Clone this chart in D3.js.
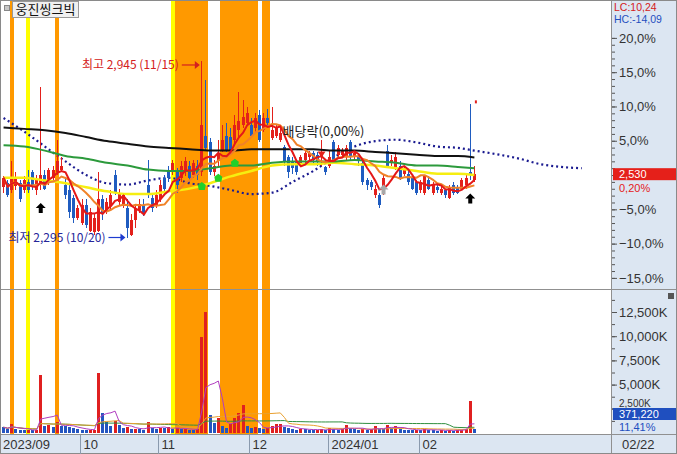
<!DOCTYPE html>
<html><head><meta charset="utf-8">
<script src="https://d3js.org/d3.v7.min.js"></script>
<style>
html,body{margin:0;padding:0;background:#fff;overflow:hidden}
svg{display:block}
text{font-family:"Liberation Sans Narrow","Noto Sans CJK KR",sans-serif;font-size:13px}
text.num{font-family:"Liberation Sans Narrow",sans-serif}
</style></head><body>
<svg id="chart" width="677" height="454"></svg>
<script>
// ---------------- DATA ----------------
const stockName = "웅진씽크빅";
const monthLabels = ["2023/09","10","11","12","2024/01","02"];
const monthStart = [0,19,38,60,79,101];
const lastDateLabel = "02/22";
const basePrice = 2525;          // previous close (0% line)
const lastPrice = 2530;
const lastChange = "0,20%";
const lastVolume = "371,220";
const lastVolChange = "11,41%";
const lcLabel = "LC:10,24", hcLabel = "HC:-14,09";
const pctTicks = [-15,-10,-5,5,10,15,20];
const volTicks = [2500,5000,7500,10000,12500];

const opens = [2480,2495,2470,2485,2495,2470,2500,2535,2470,2490,
 2525,2500,2515,2535,2545,2490,2470,2440,2365,2350,
 2415,2320,2315,2320,2435,2390,2410,2525,2425,2420,
 2405,2305,2360,2395,2415,2490,2440,2415,2435,2515,
 2545,2535,2535,2515,2535,2560,2525,2560,2535,2670,
 2645,2535,2575,2615,2670,2665,2655,2690,2710,2715,
 2710,2700,2745,2690,2735,2660,2670,2655,2630,2590,
 2575,2575,2570,2580,2590,2605,2600,2590,2555,2560,
 2645,2600,2600,2590,2645,2590,2590,2570,2505,2500,
 2450,2450,2470,2615,2570,2555,2560,2530,2530,2515,
 2500,2470,2460,2505,2460,2480,2460,2470,2440,2490,
 2480,2475,2490,2535,2505];
const highs = [2520,2505,2575,2535,2505,2520,2545,2545,2525,2850,
 2545,2550,2560,2655,2590,2515,2490,2450,2415,2435,
 2435,2405,2380,2535,2450,2440,2470,2545,2475,2460,
 2435,2380,2415,2435,2435,2580,2450,2470,2505,2525,
 2560,2580,2550,2575,2590,2575,2580,2580,2945,2875,
 2660,2580,2655,2710,2715,2700,2745,2830,2800,2775,
 2735,2755,2765,2755,2770,2775,2710,2700,2635,2600,
 2590,2580,2600,2615,2615,2615,2610,2655,2560,2615,
 2655,2635,2625,2635,2655,2615,2600,2580,2515,2505,
 2490,2460,2525,2635,2600,2610,2575,2560,2545,2525,
 2505,2505,2525,2520,2500,2490,2485,2475,2490,2500,
 2490,2515,2525,2785,2560];
const lows = [2460,2445,2460,2470,2425,2460,2460,2470,2450,2470,
 2470,2490,2500,2525,2535,2435,2365,2350,2360,2340,
 2330,2315,2305,2315,2360,2380,2395,2450,2415,2405,
 2295,2300,2330,2385,2375,2440,2390,2405,2425,2460,
 2500,2525,2460,2500,2520,2500,2515,2505,2520,2615,
 2525,2520,2560,2610,2610,2600,2635,2660,2700,2710,
 2660,2680,2645,2685,2710,2655,2660,2645,2560,2515,
 2530,2525,2560,2570,2580,2570,2560,2560,2525,2550,
 2570,2590,2590,2580,2580,2580,2560,2490,2470,2470,
 2440,2405,2450,2550,2560,2545,2505,2520,2490,2470,
 2450,2460,2450,2470,2450,2460,2450,2440,2435,2450,
 2455,2470,2475,2505,2500];
const closes = [2515,2450,2515,2515,2435,2505,2470,2490,2505,2525,
 2475,2545,2545,2575,2560,2450,2390,2365,2405,2415,
 2340,2390,2365,2435,2380,2425,2450,2460,2460,2450,
 2330,2360,2405,2420,2385,2450,2405,2450,2490,2475,
 2515,2570,2490,2560,2575,2515,2570,2525,2710,2625,
 2535,2560,2605,2655,2615,2615,2710,2725,2740,2755,
 2670,2735,2655,2735,2715,2690,2700,2680,2575,2535,
 2550,2535,2590,2605,2605,2580,2575,2605,2535,2590,
 2580,2625,2615,2625,2590,2605,2575,2500,2490,2480,
 2475,2415,2515,2560,2580,2590,2515,2545,2500,2475,
 2460,2500,2520,2475,2490,2470,2475,2450,2480,2460,
 2460,2505,2515,2525,2530];
// volume in thousands of shares
const volumes = [600,380,900,420,300,260,330,280,350,6000,
 700,800,650,1100,750,700,650,500,450,300,
 280,320,350,6200,2100,1100,700,1200,800,500,
 650,400,420,380,300,1150,500,420,550,480,
 600,450,500,380,420,350,300,400,9900,12500,
 1850,1000,1600,700,550,900,1600,2100,2900,750,
 500,600,550,450,500,700,900,950,600,500,
 400,350,450,400,300,280,320,400,300,500,
 380,320,450,800,500,400,350,420,300,380,
 700,450,400,850,500,700,400,320,300,280,
 350,300,420,300,280,250,300,220,350,250,
 300,320,450,3300,371];

const maIdx = [0,5,10,15,20,25,30,35,40,45,50,55,60,65,70,75,80,85,90,95,100,105,110,114];
const ma20 = [2515,2515,2505,2495,2480,2465,2455,2455,2465,2475,2495,2520,2540,2560,2565,2565,2570,2565,2560,2550,2540,2530,2530,2525];
const ma60 = [2635,2630,2615,2595,2585,2570,2560,2545,2540,2540,2550,2560,2560,2570,2575,2575,2575,2580,2575,2570,2560,2560,2555,2550];
const ma120 = [2700,2695,2690,2680,2665,2650,2640,2630,2625,2620,2615,2615,2620,2620,2620,2620,2615,2615,2610,2605,2600,2595,2595,2590];
const leadIdx = [0,5,10,15,20,25,30,35,40,45,50,55,60,65,70,75,80,85,90,95,100,105,110,114,120,125,130,135,140];
const leadSpan = [2735,2685,2630,2575,2525,2495,2490,2505,2515,2495,2485,2470,2455,2460,2500,2540,2590,2630,2650,2655,2645,2630,2625,2615,2600,2585,2565,2555,2550];

// signal bands (O = orange, Y = yellow)
const signalIdx  = [2,6,13,41,42,43,44,45,46,47,48,49,53,54,55,56,57,58,59,60,61,63,64];
const signalType = ["O","Y","O","Y","O","O","O","O","O","O","O","O","O","O","O","O","O","O","O","O","O","O","O"];
// markers
const crossIdx = [48,52,56], crossPrice = [2485,2515,2570];
const upArrowIdx = [9,113];
const greyArrowIdx = 92, greyArrowPrice = 2490;
const exDivIdx = 77, exDivPrice = 2590, exDivLabel = "배당락(0,00%)";
const hiIdx = 48, hiLabel = "최고 2,945 (11/15)";
const loIdx = 30, loLabel = "최저 2,295 (10/20)";

// ---------------- CHART ----------------
const W = 677, H = 454;
const svg = d3.select("#chart");
const n = closes.length;
const x = d3.scaleLinear().domain([-0.5, n - 0.5]).range([1.5, 1.5 + n * 4.13]);
const step = x(1) - x(0);
const y = d3.scaleLinear().domain([basePrice * 0.85, basePrice * 1.2]).range([277.9, 37.9]);
const pct = d3.scaleLinear().domain([-15, 20]).range([277.9, 37.9]);
const yv = d3.scaleLinear().domain([0, 12500]).range([433, 312]);

const RED = "#E3201B", BLUE = "#1F5CC0";

svg.append("rect").attr("width", W).attr("height", H).attr("fill", "#fff");
svg.append("rect").attr("x", 612).attr("y", 0).attr("width", 65).attr("height", 435).attr("fill", "#DCE6F2");
svg.append("rect").attr("x", 0).attr("y", 435).attr("width", W).attr("height", 19).attr("fill", "#DCE6F2");

const defs = svg.append("defs");
defs.append("clipPath").attr("id", "cp").append("rect").attr("x", 1).attr("y", 1).attr("width", 610).attr("height", 288);
defs.append("clipPath").attr("id", "cv").append("rect").attr("x", 1).attr("y", 291).attr("width", 610).attr("height", 143);
defs.append("clipPath").attr("id", "ca").append("rect").attr("x", 1).attr("y", 1).attr("width", 610).attr("height", 433);

// bands
svg.append("g").attr("clip-path", "url(#ca)").attr("shape-rendering", "crispEdges")
  .selectAll("rect").data(signalIdx).join("rect")
  .attr("x", d => Math.round(x(d) - step / 2))
  .attr("width", d => Math.round(x(d) + step / 2) - Math.round(x(d) - step / 2) + 0.4)
  .attr("y", 1).attr("height", 433)
  .attr("fill", (d, k) => signalType[k] === "Y" ? "#FFFF00" : "#FF9900");

// ---- price panel
const gp = svg.append("g").attr("clip-path", "url(#cp)");
const cx = i => Math.round(x(i) - 1.5);

// leading span dotted
gp.append("path")
  .attr("d", d3.line().x((d, k) => x(leadIdx[k])).y(d => y(d)).curve(d3.curveMonotoneX)(leadSpan))
  .attr("fill", "none").attr("stroke", "#1B1B90").attr("stroke-width", 2.2).attr("stroke-dasharray", "2,3");

// candles
const cg = gp.append("g").attr("shape-rendering", "crispEdges");
const col = i => closes[i] >= opens[i] ? RED : BLUE;
cg.selectAll("line").data(d3.range(n)).join("line")
  .attr("x1", i => cx(i) + 1.5).attr("x2", i => cx(i) + 1.5)
  .attr("y1", i => y(highs[i])).attr("y2", i => y(lows[i]))
  .attr("stroke", col).attr("stroke-width", 1);
cg.selectAll("rect").data(d3.range(n)).join("rect")
  .attr("x", i => cx(i)).attr("width", 3)
  .attr("y", i => y(Math.max(opens[i], closes[i])))
  .attr("height", i => Math.max(1, Math.abs(y(opens[i]) - y(closes[i]))))
  .attr("fill", col);

// moving averages
function ma(arr, p) { return arr.map((_, i) => d3.mean(arr.slice(Math.max(0, i - p + 1), i + 1))); }
const kp = (idx, vals) => d3.line().x((d, k) => x(idx[k])).y(d => y(d)).curve(d3.curveMonotoneX)(vals);
const lin = vals => d3.line().x((d, i) => x(i)).y(d => y(d))(vals);
gp.append("path").attr("d", kp(maIdx, ma20)).attr("fill", "none").attr("stroke", "#F6EE10").attr("stroke-width", 2.5);
gp.append("path").attr("d", kp(maIdx, ma60)).attr("fill", "none").attr("stroke", "#2C9A3C").attr("stroke-width", 2);
gp.append("path").attr("d", kp(maIdx, ma120)).attr("fill", "none").attr("stroke", "#111").attr("stroke-width", 2);
gp.append("path").attr("d", lin(ma(closes, 10))).attr("fill", "none").attr("stroke", "#F08228").attr("stroke-width", 2);
gp.append("path").attr("d", lin(ma(closes, 5))).attr("fill", "none").attr("stroke", "#E41818").attr("stroke-width", 2);

// markers
gp.selectAll("path.cross").data(crossIdx).join("path").attr("class", "cross")
  .attr("d", (d, k) => { const px = x(d), py = y(crossPrice[k]); return `M${px},${py-4}L${px+4},${py-1}L${px+3},${py+4}L${px-3},${py+4}L${px-4},${py-1}Z`; })
  .attr("fill", "#22D02A");
const arrowUp = (px, py) => `M${px},${py}L${px+5},${py+5}L${px+2},${py+5}L${px+2},${py+10}L${px-2},${py+10}L${px-2},${py+5}L${px-5},${py+5}Z`;
gp.selectAll("path.ua").data(upArrowIdx).join("path").attr("class", "ua")
  .attr("d", d => arrowUp(x(d), y(lows[d]) + 13)).attr("fill", "#000");
gp.append("path").attr("d", arrowUp(x(greyArrowIdx), y(greyArrowPrice))).attr("fill", "#A8A8A8");
gp.append("path").attr("d", () => { const px = x(exDivIdx), py = y(exDivPrice); return `M${px-4},${py-6}L${px+4},${py-6}L${px},${py}Z`; }).attr("fill", RED);
gp.append("rect").attr("x", x(n - 1) + 0.5).attr("y", y(2800)).attr("width", 2).attr("height", 3).attr("fill", RED);

// annotations
const hx = x(hiIdx), hy = y(highs[hiIdx]) + 4;
gp.append("text").attr("x", hx - 23).attr("y", hy).attr("dy", "0.35em").attr("text-anchor", "end")
  .style("font-size", "12px").attr("fill", "#D42020").text(hiLabel);
gp.append("line").attr("x1", hx - 20).attr("x2", hx - 4).attr("y1", hy).attr("y2", hy).attr("stroke", "#D42020").attr("stroke-width", 1.2);
gp.append("path").attr("d", `M${hx-2},${hy}L${hx-7},${hy-4}L${hx-7},${hy+4}Z`).attr("fill", "#D42020");
const lx = x(loIdx), ly = y(lows[loIdx]);
gp.append("text").attr("x", lx - 22).attr("y", ly).attr("dy", "0.35em").attr("text-anchor", "end")
  .style("font-size", "12px").attr("fill", "#26269A").text(loLabel);
gp.append("line").attr("x1", lx - 19).attr("x2", lx - 5).attr("y1", ly).attr("y2", ly).attr("stroke", "#1E3CD0").attr("stroke-width", 1.2);
gp.append("path").attr("d", `M${lx-2},${ly}L${lx-7},${ly-4}L${lx-7},${ly+4}Z`).attr("fill", "#1E3CD0");
gp.append("text").attr("x", x(exDivIdx) - 39).attr("y", 131).attr("dy", "0.35em").attr("fill", "#222").text(exDivLabel);

// ---- volume panel
const gv = svg.append("g").attr("clip-path", "url(#cv)");
gv.append("g").attr("shape-rendering", "crispEdges").selectAll("rect").data(volumes).join("rect")
  .attr("x", (d, i) => cx(i)).attr("width", 3)
  .attr("y", d => yv(d)).attr("height", d => Math.max(1, yv(0) - yv(d)))
  .attr("fill", (d, i) => i > 0 && d >= volumes[i - 1] ? "#E02020" : "#2455C0");
const vlin = vals => d3.line().x((d, i) => x(i)).y(d => yv(d))(vals);
gv.append("path").attr("d", vlin(ma(volumes, 60))).attr("fill", "none").attr("stroke", "#2F8F3F").attr("stroke-width", 1);
gv.append("path").attr("d", vlin(ma(volumes, 20))).attr("fill", "none").attr("stroke", "#E9A030").attr("stroke-width", 1);
gv.append("path").attr("d", vlin(ma(volumes, 5))).attr("fill", "none").attr("stroke", "#B03CC0").attr("stroke-width", 1);

// ---- frame lines
const fr = svg.append("g").attr("stroke", "#909090").attr("shape-rendering", "crispEdges");
fr.append("line").attr("x1", 0).attr("x2", W).attr("y1", 289.5).attr("y2", 289.5);
fr.append("line").attr("x1", 0).attr("x2", W).attr("y1", 434.5).attr("y2", 434.5);
fr.append("line").attr("x1", 611.5).attr("x2", 611.5).attr("y1", 0).attr("y2", H);
svg.append("rect").attr("x", 0.5).attr("y", 0.5).attr("width", W - 1).attr("height", H - 1)
  .attr("fill", "none").attr("stroke", "#8A8A8A").attr("shape-rendering", "crispEdges");

// ---- right axis (price, in %)
const ax = svg.append("g").attr("transform", "translate(612,0)");
ax.append("g").call(d3.axisRight(pct).tickValues(d3.range(-15, 21, 1)).tickSize(3).tickFormat(""))
  .call(g => { g.select(".domain").remove(); g.selectAll("line").attr("stroke", "#555"); });
ax.append("g").call(d3.axisRight(pct).tickValues(pctTicks).tickSize(5).tickPadding(2)
    .tickFormat(d => d3.format(".1f")(d).replace(".", ",") + "%"))
  .call(g => { g.select(".domain").remove(); g.selectAll("line").attr("stroke", "#555");
    g.selectAll("text").attr("fill", "#333").attr("class", "num").style("font-size", "13px").attr("font-family", null); });

// volume axis
ax.append("g").call(d3.axisRight(yv).tickValues(d3.range(1250, 13751, 1250)).tickSize(3).tickFormat(""))
  .call(g => { g.select(".domain").remove(); g.selectAll("line").attr("stroke", "#555"); });
ax.append("g").call(d3.axisRight(yv).tickValues(volTicks.slice(1)).tickSize(5).tickPadding(2)
    .tickFormat(d => d3.format(",")(d) + "K"))
  .call(g => { g.select(".domain").remove(); g.selectAll("line").attr("stroke", "#555");
    g.selectAll("text").attr("fill", "#333").attr("class", "num").style("font-size", "13px").attr("font-family", null); });
// lowest volume tick: its label peeks out above the current-volume box
const v0 = yv(volTicks[0]);
ax.append("line").attr("x1", 0).attr("x2", 5).attr("y1", v0).attr("y2", v0).attr("stroke", "#555");
ax.append("text").attr("class", "num").attr("x", 7).attr("y", v0 - 5).attr("dy", "0.32em").style("font-size", "10px").attr("fill", "#333").text(d3.format(",")(volTicks[0]) + "K");

// current price box
const py0 = y(lastPrice);
svg.append("rect").attr("x", 613).attr("y", py0 - 5.5).attr("width", 63).attr("height", 12).attr("fill", "#E5201A");
svg.append("text").attr("class", "num").attr("x", 619).attr("y", py0 + 0.5).attr("dy", "0.36em").style("font-size", "11px").attr("fill", "#fff").text(d3.format(",")(lastPrice));
svg.append("text").attr("class", "num").attr("x", 619).attr("y", py0 + 14).attr("dy", "0.36em").style("font-size", "11px").attr("fill", "#E5201A").text(lastChange);
svg.append("text").attr("class", "num").attr("x", 614).attr("y", 7.5).attr("dy", "0.36em").style("font-size", "10.5px").attr("fill", "#D42020").text(lcLabel);
svg.append("text").attr("class", "num").attr("x", 614).attr("y", 19.5).attr("dy", "0.36em").style("font-size", "10.5px").attr("fill", "#1F4FBF").text(hcLabel);
// current volume box
svg.append("rect").attr("x", 613).attr("y", 408).attr("width", 63).attr("height", 12).attr("fill", "#1F4FBF");
svg.append("text").attr("class", "num").attr("x", 619).attr("y", 414).attr("dy", "0.36em").style("font-size", "11px").attr("fill", "#fff").text(lastVolume);
svg.append("text").attr("class", "num").attr("x", 619).attr("y", 427).attr("dy", "0.36em").style("font-size", "11px").attr("fill", "#1F4FBF").text(lastVolChange);
// close button
svg.append("rect").attr("x", 668).attr("y", 293).attr("width", 6).attr("height", 6).attr("fill", "#555");

// ---- x axis labels
const xa = svg.append("g");
monthStart.forEach((s, k) => {
  const bx = Math.round(x(s) - step / 2) + 0.5;
  if (k > 0) xa.append("line").attr("x1", bx).attr("x2", bx).attr("y1", 435).attr("y2", 454).attr("stroke", "#8A9AAE");
  xa.append("text").attr("class", "num").attr("x", (k > 0 ? bx : 0) + 3).attr("y", 444).attr("dy", "0.36em").attr("fill", "#333").text(monthLabels[k]);
});
xa.append("text").attr("class", "num").attr("x", 622).attr("y", 444).attr("dy", "0.36em").attr("fill", "#333").text(lastDateLabel);

// ---- title
svg.append("rect").attr("x", 4.5).attr("y", 5.5).attr("width", 5).attr("height", 5).attr("fill", "#C8C8C8").attr("stroke", "#888");
svg.append("rect").attr("x", 12.5).attr("y", 1.5).attr("width", 66).attr("height", 16).attr("fill", "#F0F0F0").attr("stroke", "#999");
svg.append("text").attr("x", 45.5).attr("y", 9.5).attr("dy", "0.36em").attr("text-anchor", "middle")
  .attr("fill", "#111").style("font-family", "'Noto Sans CJK KR',sans-serif").text(stockName);
</script>
</body></html>
